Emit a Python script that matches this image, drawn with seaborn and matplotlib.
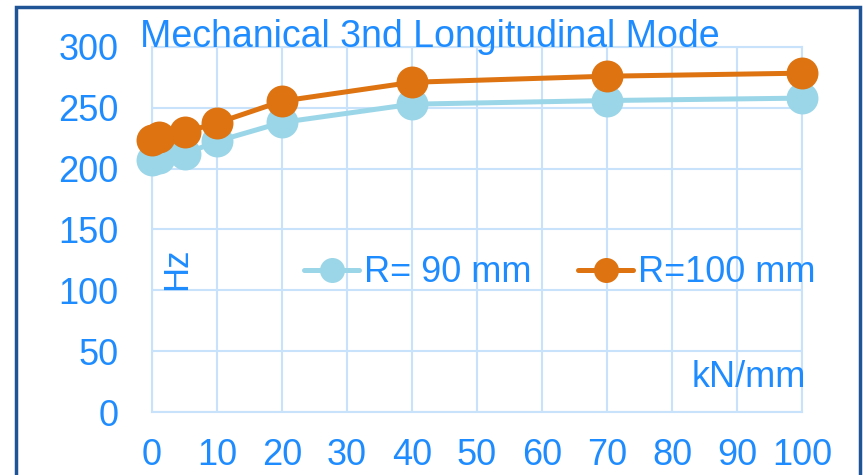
import matplotlib
matplotlib.use("Agg")
import matplotlib.pyplot as plt
import seaborn as sns
import pandas as pd
from matplotlib.patches import Rectangle
from matplotlib.lines import Line2D

stiffness = [0, 1, 5, 10, 20, 40, 70, 100]
freq_r90 = [207, 209, 212, 222.5, 238, 253, 256, 258]
freq_r100 = [223.5, 226, 230, 237.5, 255.5, 271, 276, 278.5]
series_names = ["R= 90 mm", "R=100 mm"]
x_ticks = [0, 10, 20, 30, 40, 50, 60, 70, 80, 90, 100]
y_ticks = [0, 50, 100, 150, 200, 250, 300]
title = "Mechanical 3nd Longitudinal Mode"

df = pd.DataFrame({
    "k": stiffness * 2,
    "f": freq_r90 + freq_r100,
    "series": [series_names[0]] * len(stiffness) + [series_names[1]] * len(stiffness),
})

sns.set_theme(style="white")
plt.rcParams["font.family"] = ["Liberation Sans", "DejaVu Sans"]

TXT = "#1E8CFF"
GRID = "#C8E2FB"
colors = {series_names[0]: "#9BD6E8", series_names[1]: "#DD7311"}

fig = plt.figure(figsize=(8.63, 4.75), dpi=100)
ax = fig.add_axes([152/863, 63/475, 650/863, 365/475])

sns.lineplot(data=df, x="k", y="f", hue="series", palette=colors, ax=ax,
             marker="o", markersize=23, linewidth=3.6, markeredgewidth=0,
             legend=False, zorder=3)

ax.set_xlim(0, 100)
ax.set_ylim(0, 300)
ax.set_xticks(x_ticks)
ax.set_yticks(y_ticks)
ax.set_xlabel("")
ax.set_ylabel("")
ax.grid(True, color=GRID, linewidth=1.5)
for s in ax.spines.values():
    s.set_color(GRID)
    s.set_linewidth(1.5)
ax.tick_params(axis="both", colors=TXT, labelsize=26, length=0)
ax.tick_params(axis="y", pad=24)
ax.tick_params(axis="x", pad=19)
for lab in ax.get_xticklabels() + ax.get_yticklabels():
    lab.set_color(TXT)
for l in ax.lines:
    l.set_clip_on(False)

ax.text(3.8, 118, "Hz", rotation=90, color=TXT, fontsize=25, ha="center", va="center")
ax.text(91.8, 28, "kN/mm", color=TXT, fontsize=26, ha="center", va="center")

fig.text(430/863, 1 - 47/475, title, color=TXT, fontsize=27, ha="center", va="baseline")

handles = [Line2D([], [], color=colors[n], marker="o", markersize=18, linewidth=3.6,
                  markeredgewidth=0) for n in series_names]
leg = ax.legend(handles, series_names, loc="center", bbox_to_anchor=(560/863, 1 - 273/475),
                bbox_transform=fig.transFigure, ncol=2, frameon=False, fontsize=26,
                handlelength=1.5, handletextpad=0.15, columnspacing=1.3,
                borderpad=0, borderaxespad=0)
for t in leg.get_texts():
    t.set_color(TXT)

fig.patches.append(Rectangle((16/863, -0.05), (860-16)/863, 1.05 - 7/475,
                             transform=fig.transFigure, fill=False,
                             edgecolor="#1F5496", linewidth=2.5, zorder=10))

fig.savefig("out.png", dpi=100)
